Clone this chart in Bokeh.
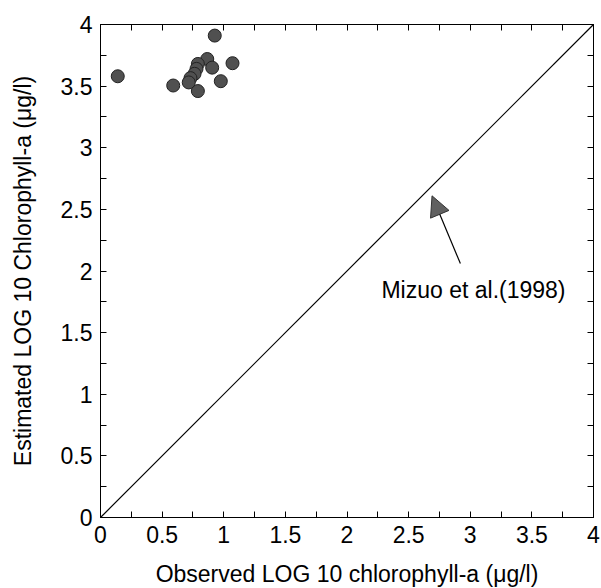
from bokeh.plotting import figure
from bokeh.models import Range1d, FixedTicker, LinearAxis, Arrow, NormalHead, Label, ColumnDataSource
from bokeh.embed import file_html
from bokeh.resources import INLINE

# ---- data ----
observed = [0.14, 0.59, 0.79, 0.976, 1.071, 0.927, 0.866, 0.906, 0.79, 0.779, 0.763, 0.73, 0.716]
estimated = [3.58, 3.505, 3.46, 3.54, 3.686, 3.91, 3.72, 3.65, 3.68, 3.64, 3.60, 3.565, 3.53]
line_x = [0, 4]
line_y = [0, 4]
major_ticks = [0, 0.5, 1, 1.5, 2, 2.5, 3, 3.5, 4]
minor_ticks = [0.25, 0.75, 1.25, 1.75, 2.25, 2.75, 3.25, 3.75]
tick_labels = ["0", "0.5", "1", "1.5", "2", "2.5", "3", "3.5", "4"]
arrow_from = (2.92, 2.06)
arrow_to = (2.69, 2.61)
note_pos = (3.773, 1.842)
note_text = "Mizuo et al.(1998)"
x_title = "Observed LOG 10 chlorophyll-a (μg/l)"
y_title = "Estimated LOG 10 Chlorophyll-a (μg/l)"

FONT = "Liberation Sans"
FS = "23px"

p = figure(frame_width=493, frame_height=493, output_backend="svg", toolbar_location=None,
           x_range=Range1d(0, 4), y_range=Range1d(0, 4),
           min_border_left=100, min_border_right=7, min_border_top=24, min_border_bottom=70,
           background_fill_color="white", border_fill_color="white")
p.grid.visible = False
p.outline_line_color = "black"
p.outline_line_width = 1

overrides = {t: l for t, l in zip(major_ticks, tick_labels)}
blank = {t: "" for t in major_ticks}

def style(ax, labels=True):
    ax.ticker = FixedTicker(ticks=major_ticks, minor_ticks=minor_ticks)
    ax.major_tick_in = 6
    ax.major_tick_out = 0
    ax.minor_tick_in = 6
    ax.minor_tick_out = 0
    ax.axis_line_color = "black"
    ax.major_tick_line_color = "black"
    ax.minor_tick_line_color = "black"
    ax.major_label_text_font = FONT
    ax.major_label_text_font_size = FS
    ax.major_label_text_color = "black"
    ax.axis_label_text_font = FONT
    ax.axis_label_text_font_size = FS
    ax.axis_label_text_font_style = "normal"
    ax.axis_label_text_color = "black"
    if labels:
        ax.major_label_overrides = overrides
    else:
        ax.major_label_overrides = blank
        ax.major_label_text_font_size = "1px"
        ax.major_label_standoff = 0

style(p.xaxis[0])
style(p.yaxis[0])
p.xaxis[0].axis_label = x_title
p.yaxis[0].axis_label = y_title
p.xaxis[0].major_label_standoff = 8
p.xaxis[0].axis_label_standoff = 15
p.yaxis[0].major_label_standoff = 8
p.yaxis[0].axis_label_standoff = 22

top = LinearAxis()
style(top, labels=False)
right = LinearAxis()
style(right, labels=False)
p.add_layout(top, "above")
p.add_layout(right, "right")

p.line(line_x, line_y, line_color="black", line_width=1.2)

src = ColumnDataSource(dict(x=observed, y=estimated))
p.scatter("x", "y", source=src, size=13, fill_color="#505050", line_color="#222222", line_width=1)

p.add_layout(Arrow(end=NormalHead(size=20, fill_color="#606060", line_color="#333333", line_width=1),
                   x_start=arrow_from[0], y_start=arrow_from[1],
                   x_end=arrow_to[0], y_end=arrow_to[1],
                   line_color="black", line_width=1.2))
p.add_layout(Label(x=note_pos[0], y=note_pos[1], text=note_text, text_align="right",
                   text_baseline="alphabetic", text_font=FONT, text_font_size=FS, text_color="black"))

open("out.html", "w").write(file_html(p, INLINE))
